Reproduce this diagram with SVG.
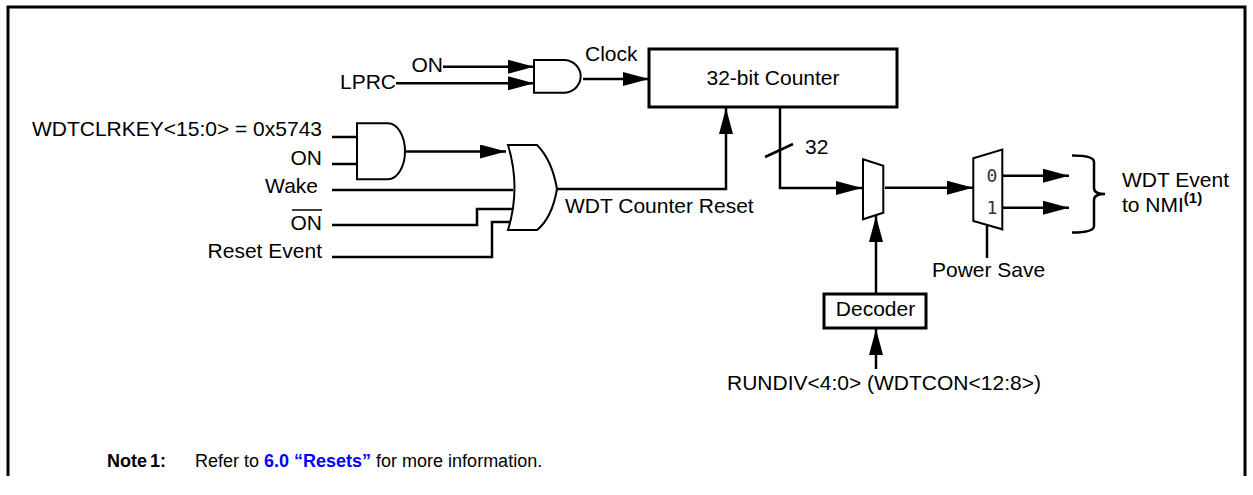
<svg xmlns="http://www.w3.org/2000/svg" width="1253" height="495" viewBox="0 0 1253 495">
<style>
text{font-family:"Liberation Sans",Arial,sans-serif;font-size:21px;fill:#000}
.w{fill:none;stroke:#000;stroke-width:2.5}
.a{fill:none;stroke:#000;stroke-width:2.5;marker-end:url(#ah)}
.box{fill:#fff;stroke:#000;stroke-width:3}
.gate{fill:#fff;stroke:#000;stroke-width:2}
.mono{font-family:"DejaVu Sans Mono","Liberation Mono",monospace;font-size:18px;fill:#333}
.note{font-size:18px}
</style>
<defs>
<marker id="ah" markerUnits="userSpaceOnUse" markerWidth="26" markerHeight="14" refX="26" refY="7" orient="auto">
<path d="M0,0 L26,7 L0,14 z" fill="#000"/>
</marker>
</defs>
<rect width="1253" height="495" fill="#fff"/>
<g id="frame"><path d="M8,476 L8,7 L1245,7 L1245,476" fill="none" stroke="#000" stroke-width="3"/></g>

<g id="connectors">
<path class="a" d="M443,66.7 H534"/>
<path class="a" d="M396,83.3 H534"/>
<path class="a" d="M583,79 H649"/>
<path class="w" d="M332,137 H357"/>
<path class="w" d="M332,164 H357"/>
<path class="a" d="M405,151.5 H506"/>
<path class="w" d="M332,190 H513"/>
<path class="w" d="M332,225 H477 V209 H513"/>
<path class="w" d="M332,257 H492 V222 H512"/>
<path class="a" d="M557,189 H726 V108"/>
<path class="a" d="M780,107 V188 H862"/>
<path class="w" d="M765,157 L793,144" stroke-width="2"/>
<path class="a" d="M885,187.7 H973"/>
<path class="a" d="M1002,175.7 H1069"/>
<path class="a" d="M1002,207.7 H1069"/>
<path class="w" d="M987,226 V258"/>
<path class="a" d="M876,294 V216"/>
<path class="a" d="M876,369 V329"/>
<path class="w" d="M1072,155.5 Q1094,155.5 1094,162 V188 Q1094,194 1105,194 Q1094,194 1094,200 V226 Q1094,232.5 1072,232.5" stroke-width="2"/>
</g>

<g id="labels-in">
<text x="443" y="72" text-anchor="end">ON</text>
<text x="396" y="89" text-anchor="end">LPRC</text>
<text x="585" y="61">Clock</text>
<text x="322" y="136" text-anchor="end">WDTCLRKEY&lt;15:0&gt; = 0x5743</text>
<text x="322" y="165" text-anchor="end">ON</text>
<text x="318" y="193" text-anchor="end">Wake</text>
<text x="322" y="230" text-anchor="end">ON</text>
<path d="M292,210 H322" stroke="#000" stroke-width="1.5"/>
<text x="322" y="258" text-anchor="end">Reset Event</text>
<text x="565" y="213">WDT Counter Reset</text>
<text x="805" y="154">32</text>
<text x="932" y="277">Power Save</text>
<text x="727" y="390">RUNDIV&lt;4:0&gt; (WDTCON&lt;12:8&gt;)</text>
<text x="1122" y="187">WDT Event</text>
<text x="1122" y="212">to NMI<tspan font-weight="bold" font-size="15" dy="-9">(1)</tspan></text>
</g>

<g id="and1"><path class="gate" d="M534,60 H565 A17,16.4 0 0 1 565,92.7 H534 Z"/></g>
<g id="and2"><path class="gate" d="M357,123.3 H388 A17,28 0 0 1 388,179.3 H357 Z"/></g>
<g id="or1"><path class="gate" d="M508,145 H537 Q552,160 557,189 Q552,218 537,230 H508 Q521,187.5 508,145 Z"/></g>
<g id="counter"><rect class="box" x="649" y="49" width="248" height="58"/><text x="773" y="85" text-anchor="middle">32-bit Counter</text></g>
<g id="mux1"><path class="gate" d="M863,159.3 L883.3,165.7 V212.7 L863,219.3 Z" stroke-width="2.5"/></g>
<g id="mux2"><path class="gate" d="M973.3,158.3 L1002.3,149.5 V229.3 L973.3,221 Z" stroke-width="2.5"/>
<text class="mono" x="992" y="182" text-anchor="middle">0</text>
<text class="mono" x="992" y="214" text-anchor="middle">1</text></g>
<g id="decoder"><rect class="box" x="824" y="294" width="102" height="34"/><text x="875.5" y="316" text-anchor="middle">Decoder</text></g>

<g id="note">
<text class="note" x="107" y="467" font-weight="bold">Note</text>
<text class="note" x="150" y="467" font-weight="bold">1:</text>
<text class="note" x="195" y="467">Refer to <tspan fill="#0000ff" font-weight="bold">6.0 “Resets”</tspan> for more information.</text>
</g>
</svg>
